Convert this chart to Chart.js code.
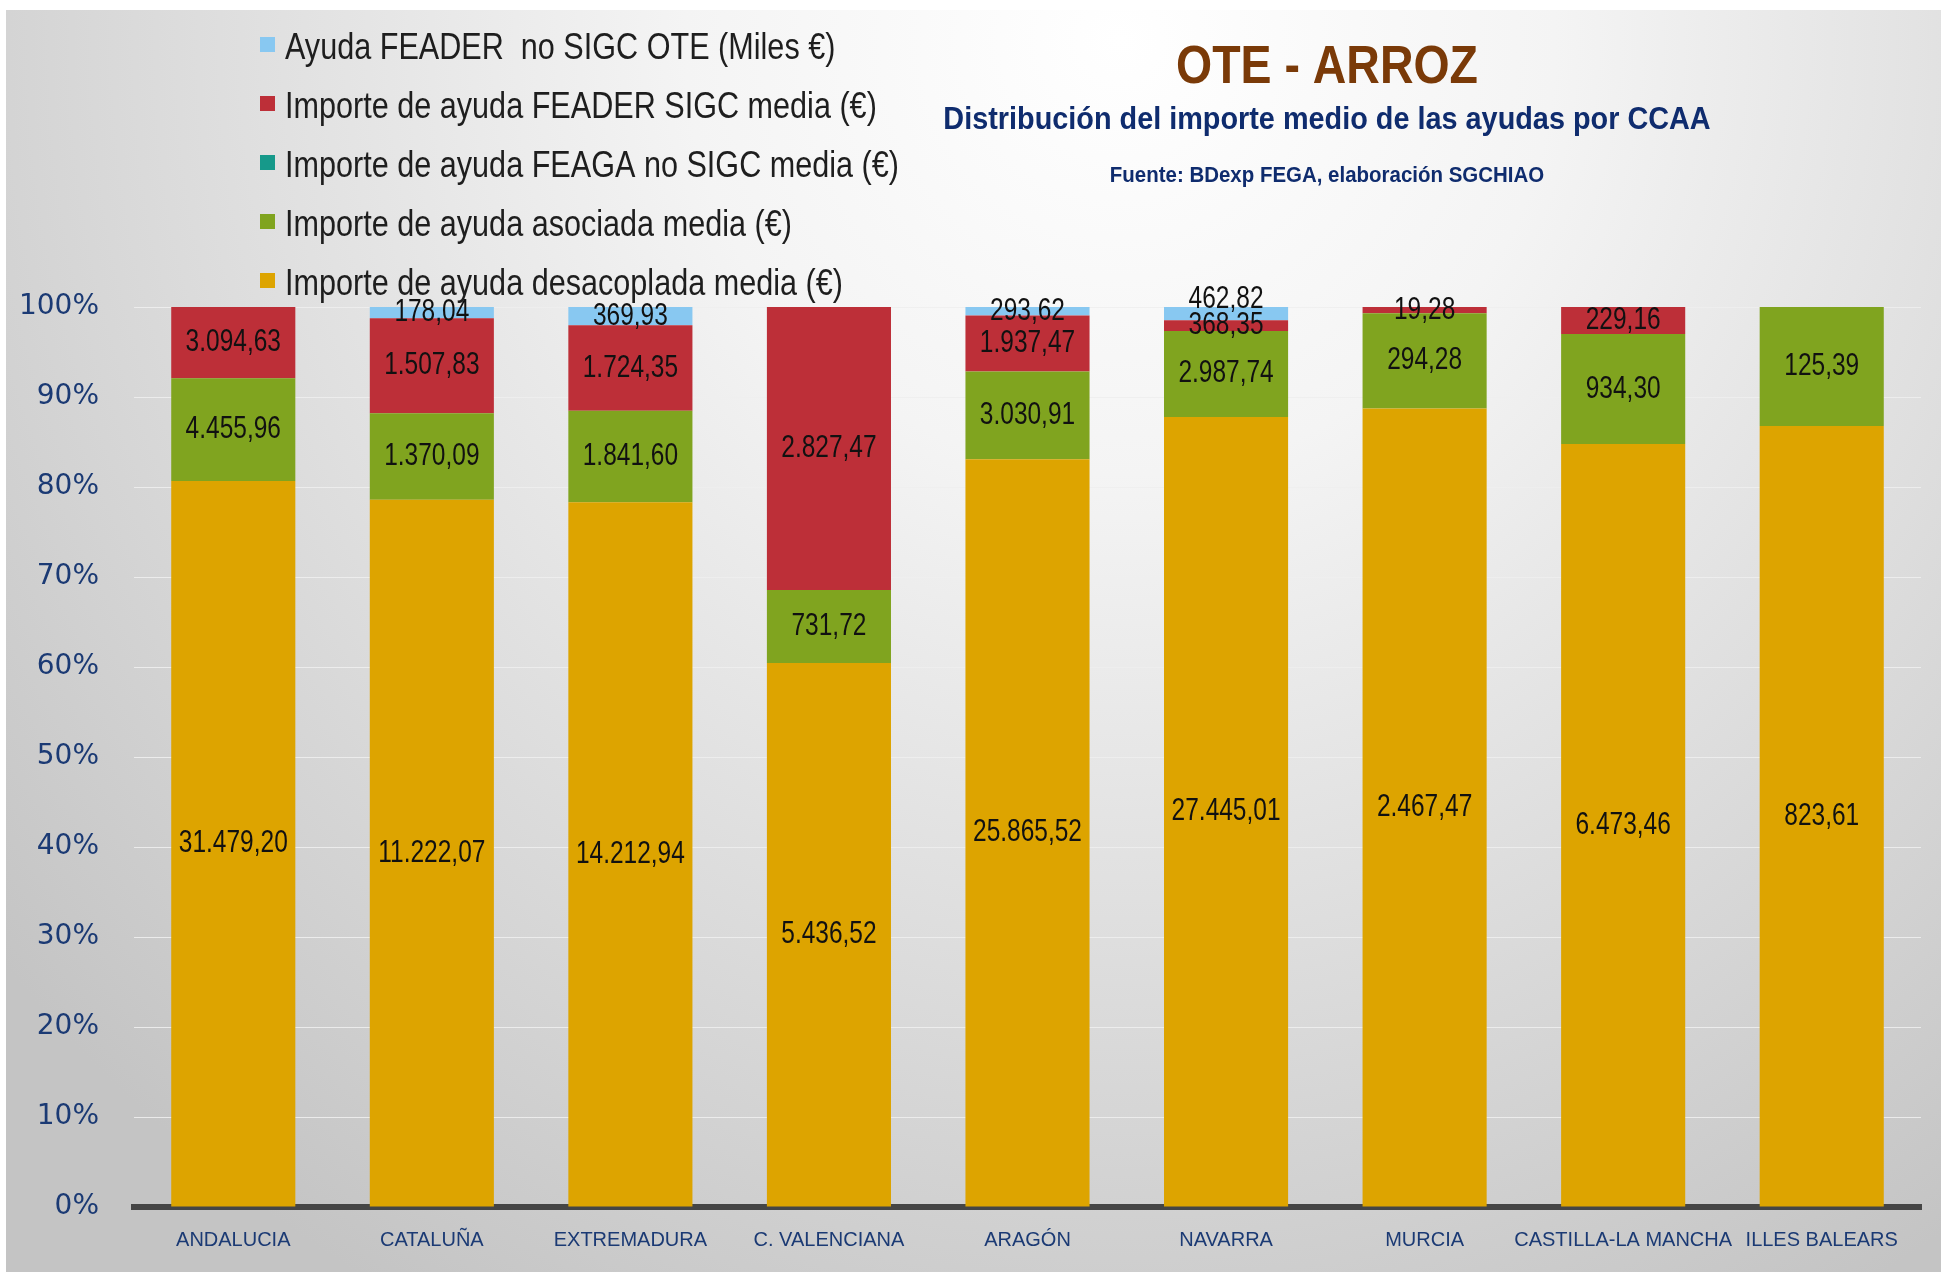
<!DOCTYPE html>
<html>
<head>
<meta charset="utf-8">
<script src="https://cdn.jsdelivr.net/npm/chart.js@4.4.1/dist/chart.umd.min.js"></script>
<style>
  html, body { margin: 0; padding: 0; background: #ffffff; }
  #wrap { width: 1941px; height: 1272px; position: relative; }
</style>
</head>
<body>
<div id="wrap"><canvas id="chart"></canvas></div>
<script>
// datos: importe medio de las ayudas por CCAA (OTE - ARROZ)
const categories = ['ANDALUCIA', 'CATALUÑA', 'EXTREMADURA', 'C. VALENCIANA', 'ARAGÓN', 'NAVARRA', 'MURCIA', 'CASTILLA-LA MANCHA', 'ILLES BALEARS']
const desacoplada = [31479.20, 11222.07, 14212.94, 5436.52, 25865.52, 27445.01, 2467.47, 6473.46, 823.61]
const asociada = [4455.96, 1370.09, 1841.60, 731.72, 3030.91, 2987.74, 294.28, 934.30, 125.39]
const feagaNoSigc = [0, 0, 0, 0, 0, 0, 0, 0, 0]
const feaderSigc = [3094.63, 1507.83, 1724.35, 2827.47, 1937.47, 368.35, 19.28, 229.16, 0]
const feaderNoSigc = [0, 178.04, 369.93, 0, 293.62, 462.82, 0, 0, 0]
const yTicks = ['0%', '10%', '20%', '30%', '40%', '50%', '60%', '70%', '80%', '90%', '100%']

const series = [
  { label: 'Importe de ayuda desacoplada media (€)', values: desacoplada, color: '#DDA400' },
  { label: 'Importe de ayuda asociada media (€)', values: asociada, color: '#80A41F' },
  { label: 'Importe de ayuda FEAGA no SIGC media (€)', values: feagaNoSigc, color: '#16998A' },
  { label: 'Importe de ayuda FEADER SIGC media (€)', values: feaderSigc, color: '#BD2F38' },
  { label: 'Ayuda FEADER  no SIGC OTE (Miles €)', values: feaderNoSigc, color: '#88C8F1' }
]

// totales por CCAA para pasar a porcentaje
const totals = categories.map((c, i) => series.reduce((s, d) => s + d.values[i], 0))

const FONT = "'Liberation Sans', Arial, sans-serif"
const NAVY = '#1B3A74'

// formato español: 31.479,20
function fmt (v) {
  const parts = v.toFixed(2).split('.')
  const ent = parts[0].replace(/\B(?=(\d{3})+(?!\d))/g, '.')
  return ent + ',' + parts[1]
}

// texto estrechado (imita la fuente condensada del original)
function texto (ctx, str, x, y, sx, align) {
  ctx.save()
  ctx.translate(x, y)
  ctx.scale(sx, 1)
  ctx.textAlign = align
  ctx.fillText(str, 0, 0)
  ctx.restore()
}

const fondo = {
  id: 'fondo',
  beforeDraw (chart) {
    const ctx = chart.ctx
    ctx.save()
    ctx.fillStyle = '#ffffff'
    ctx.fillRect(0, 0, chart.width, chart.height)
    const g = ctx.createRadialGradient(1120, 40, 0, 1120, 40, 1450)
    g.addColorStop(0, '#ffffff')
    g.addColorStop(0.3, '#f4f4f4')
    g.addColorStop(1, '#c4c4c4')
    ctx.fillStyle = g
    ctx.fillRect(6, 10, chart.width - 6, chart.height - 10)
    ctx.restore()
  }
}

const textos = {
  id: 'textos',
  afterDraw (chart) {
    const ctx = chart.ctx
    ctx.save()
    ctx.textBaseline = 'middle'
    // titulos
    ctx.fillStyle = '#7A3A08'
    ctx.font = 'bold 54px ' + FONT
    texto(ctx, 'OTE - ARROZ', 1327, 68, 0.86, 'center')
    ctx.fillStyle = '#0F2C6E'
    ctx.font = 'bold 31px ' + FONT
    texto(ctx, 'Distribución del importe medio de las ayudas por CCAA', 1327, 120, 0.93, 'center')
    ctx.font = 'bold 22px ' + FONT
    texto(ctx, 'Fuente: BDexp FEGA, elaboración SGCHIAO', 1327, 176, 0.93, 'center')

    // leyenda vertical, orden inverso
    const items = chart.data.datasets.slice().reverse()
    items.forEach((ds, k) => {
      const y = 49 + k * 59
      ctx.fillStyle = ds.backgroundColor
      ctx.fillRect(260, y - 12, 15, 15)
      ctx.fillStyle = '#1e1e1e'
      ctx.font = '36px ' + FONT
      texto(ctx, ds.label, 285, y, 0.85, 'left')
    })
    ctx.restore()
  }
}

const etiquetas = {
  id: 'etiquetas',
  afterDatasetsDraw (chart) {
    const ctx = chart.ctx
    const lineH = 26
    ctx.save()
    ctx.font = '31px ' + FONT
    ctx.fillStyle = '#111111'
    ctx.textBaseline = 'middle'
    categories.forEach((c, i) => {
      let prevY = null
      chart.data.datasets.forEach((ds, d) => {
        const v = series[d].values[i]
        if (!v) return
        const bar = chart.getDatasetMeta(d).data[i]
        let y = (bar.y + bar.base) / 2
        if (prevY !== null && prevY - y < lineH) y = prevY - lineH
        texto(ctx, fmt(v), bar.x, y, 0.79, 'center')
        prevY = y
      })
    })
    ctx.restore()
  }
}

const ctx = document.getElementById('chart').getContext('2d')
new Chart(ctx, {
  type: 'bar',
  data: {
    labels: categories,
    datasets: series.map(s => ({
      label: s.label,
      data: s.values.map((v, i) => v / totals[i] * 100),
      backgroundColor: s.color,
      borderWidth: 0,
      categoryPercentage: 1,
      barPercentage: 0.625
    }))
  },
  options: {
    responsive: true,
    maintainAspectRatio: false,
    animation: false,
    layout: { padding: { top: 307, right: 20, left: 0, bottom: 0 } },
    plugins: {
      legend: { display: false },
      tooltip: { enabled: false },
      title: { display: false }
    },
    scales: {
      x: {
        stacked: true,
        grid: { display: false, drawTicks: false },
        border: { display: true, color: '#454545', width: 6 },
        ticks: {
          color: NAVY,
          font: { family: FONT, size: 20 },
          padding: 21,
          maxRotation: 0,
          autoSkip: false
        },
        afterFit (scale) { scale.height = 65 }
      },
      y: {
        stacked: true,
        min: 0,
        max: 100,
        grid: { color: 'rgba(238,238,238,0.9)', lineWidth: 1, drawTicks: false },
        border: { display: false },
        ticks: {
          stepSize: 10,
          color: NAVY,
          font: { family: "'DejaVu Sans', Verdana, sans-serif", size: 28 },
          padding: 35,
          callback: (v) => yTicks[Math.round(v / 10)]
        },
        afterFit (scale) { scale.width = 134 }
      }
    }
  },
  plugins: [fondo, etiquetas, textos]
})
</script>
</body>
</html>
